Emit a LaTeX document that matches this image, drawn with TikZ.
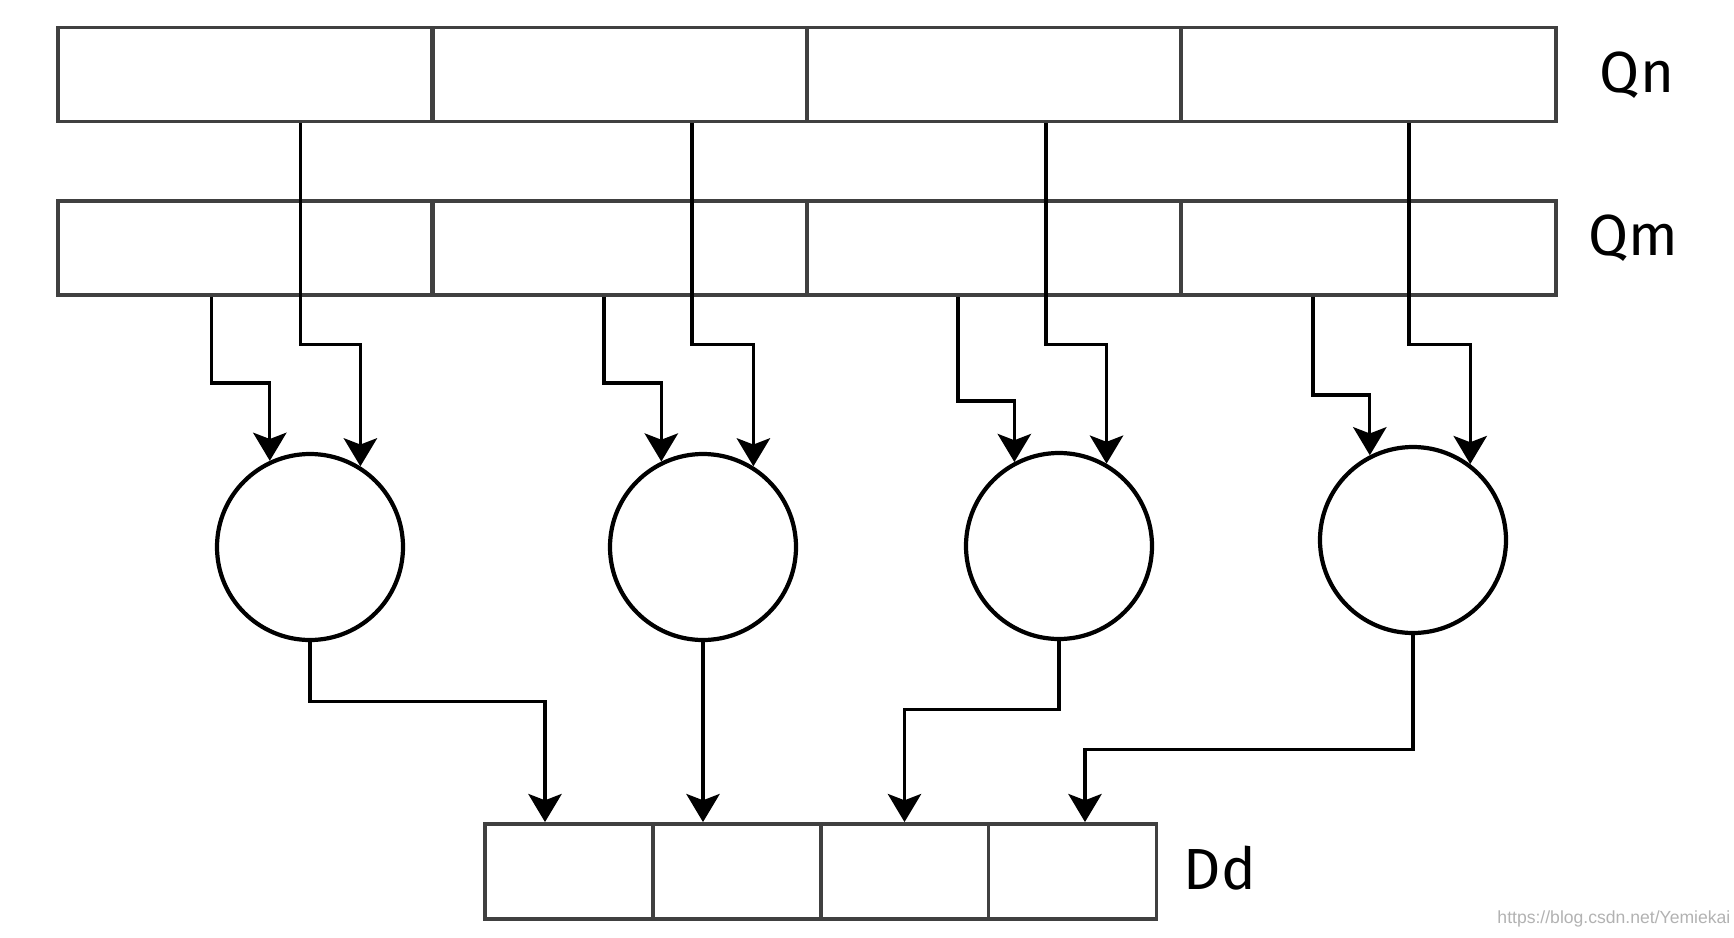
\documentclass[tikz,border=0pt]{standalone}
\usepackage{fontspec}
\setmainfont{Fira Sans}
\newfontfamily\markfont{Liberation Sans}
\usetikzlibrary{calc,arrows.meta}

\tikzset{
  cell/.style={draw=black!75,line width=1.1pt,rectangle,inner sep=0pt,minimum height=0.94cm},
  wide/.style={cell,minimum width=3.745cm},
  narrow/.style={cell,minimum width=1.68cm,minimum height=0.95cm},
  alu/.style={draw,circle,line width=1.2pt,inner sep=0pt,minimum size=1.86cm},
  arr/.style={line width=0.9pt,-{Stealth[length=8pt,width=9.5pt,inset=1.8pt]}},
  reg/.style={font=\fontsize{16.5}{20}\selectfont}
}

\begin{document}
\begin{tikzpicture}
        \useasboundingbox (0,0) rectangle (17.34,-9.38);
        % source registers
        \draw (2.455,-0.745)  node[wide] (n1) {};
        \draw (6.195,-0.745)  node[wide] (n2) {};
        \draw (9.94,-0.745)   node[wide] (n3) {};
        \draw (13.685,-0.745) node[wide] (n4) {};
        \draw (2.455,-2.48)   node[wide] (m1) {};
        \draw (6.195,-2.48)   node[wide] (m2) {};
        \draw (9.94,-2.48)    node[wide] (m3) {};
        \draw (13.685,-2.48)  node[wide] (m4) {};
        % lanes
        \draw (3.10,-5.47)  node[alu] (c1) {};
        \draw (7.03,-5.47)  node[alu] (c2) {};
        \draw (10.59,-5.46) node[alu] (c3) {};
        \draw (14.13,-5.40) node[alu] (c4) {};
        % destination register
        \draw (5.69,-8.715)  node[narrow] (d1) {};
        \draw (7.375,-8.715) node[narrow] (d2) {};
        \draw (9.045,-8.715) node[narrow] (d3) {};
        \draw (10.725,-8.715) node[narrow] (d4) {};
        \node[reg] at (16.37,-0.75) {Qn};
        \node[reg] at (16.33,-2.38) {Qm};
        \node[reg] at (12.20,-8.68) {Dd};
        \node[text=black!30,font=\markfont\fontsize{5}{6}\selectfont,anchor=east,inner sep=0pt] (wm) at (17.31,-9.19) {https://blog.csdn.net/Yemiekai};
        \draw[arr] ($(n1.south)+(0.55,0)$)  -- ++(0,-2.21) -| (c1.58.9);
        \draw[arr] ($(n2.south)+(0.725,0)$) -- ++(0,-2.21) -| (c2.58.2);
        \draw[arr] ($(n3.south)+(0.52,0)$)  -- ++(0,-2.21) -| (c3.60.4);
        \draw[arr] ($(n4.south)+(0.405,0)$) -- ++(0,-2.21) -| (c4.53);
        \draw[arr] ($(m1.south)+(-0.34,0)$)  -- ++(0,-0.86) -| (c1.115.5);
        \draw[arr] ($(m2.south)+(-0.155,0)$) -- ++(0,-0.86) -| (c2.116.2);
        \draw[arr] ($(m3.south)+(-0.36,0)$)  -- ++(0,-1.04) -| (c3.118.2);
        \draw[arr] ($(m4.south)+(-0.555,0)$) -- ++(0,-0.98) -| (c4.117.5);
        \draw[arr] (c1.south) -- ++(0,-0.59) -| ($(d1.north)+(-0.24,0)$);
        \draw[arr] (c2.south) -- (c2.south |- d2.north);
        \draw[arr] (c3.south) -- ++(0,-0.68) -| (d3.north);
        \draw[arr] (c4.south) -- ++(0,-1.14) -| ($(d4.north)+(0.125,0)$);
    \end{tikzpicture}
\end{document}
